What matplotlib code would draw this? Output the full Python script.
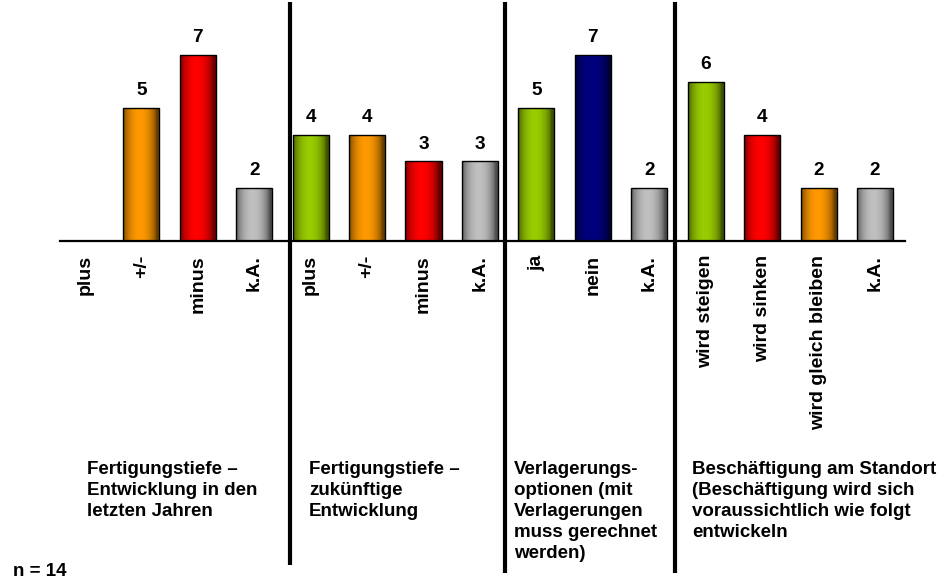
import numpy as np
import matplotlib.pyplot as plt
from matplotlib.colors import to_rgb

plt.rcParams['font.family'] = ['Liberation Sans', 'DejaVu Sans']
plt.rcParams['font.weight'] = 'bold'

# categories of the four question blocks, left to right
labels = ['plus', '+/-', 'minus', 'k.A.',
          'plus', '+/-', 'minus', 'k.A.',
          'ja', 'nein', 'k.A.',
          'wird steigen', 'wird sinken', 'wird gleich bleiben', 'k.A.']
values = [0, 5, 7, 2,
          4, 4, 3, 3,
          5, 7, 2,
          6, 4, 2, 2]
colours = ['#99CC00', '#FF9900', '#FF0000', '#C0C0C0',
           '#99CC00', '#FF9900', '#FF0000', '#C0C0C0',
           '#99CC00', '#000080', '#C0C0C0',
           '#99CC00', '#FF0000', '#FF9900', '#C0C0C0']
group_titles = ['Fertigungstiefe –\nEntwicklung in den\nletzten Jahren',
                'Fertigungstiefe –\nzukünftige\nEntwicklung',
                'Verlagerungs-\noptionen (mit\nVerlagerungen\nmuss gerechnet\nwerden)',
                'Beschäftigung am Standort\n(Beschäftigung wird sich\nvoraussichtlich wie folgt\nentwickeln']
n_total = 14

W, H = 941, 582
fig = plt.figure(figsize=(W / 100, H / 100), dpi=100)
ax = fig.add_axes([60 / W, 1 - 241 / H, 845 / W, 239 / H])

x = np.arange(len(labels))
bw = 0.64
ax.set_xlim(-0.44, 14.53)
ax.set_ylim(0, 9)

# cylinder-like shading across each bar, brightest a little left of centre
t = np.linspace(0, 1, 64)
shade = 0.40 + 0.60 * np.sin(np.pi * np.clip(t * 1.1, 0, 1)) ** 0.6

bars = ax.bar(x, values, width=bw, facecolor='none', edgecolor='black',
              linewidth=1.0, zorder=3)
for b, v, c in zip(bars, values, colours):
    if v == 0:
        b.set_visible(False)
        continue
    rgb = np.array(to_rgb(c))
    img = (shade[:, None] * rgb[None, :])[None, :, :]
    im = ax.imshow(img, extent=(b.get_x(), b.get_x() + bw, 0, v),
                   aspect='auto', interpolation='bilinear', zorder=2)
    im.set_clip_path(b)
    ax.text(b.get_x() + bw / 2, v + 0.33, str(v), ha='center', va='bottom',
            fontsize=13.7, fontweight='bold')

ax.set_xlim(-0.44, 14.53)
ax.set_ylim(0, 9)

for s in ['top', 'right', 'left']:
    ax.spines[s].set_visible(False)
ax.spines['bottom'].set_linewidth(1.6)
ax.set_yticks([])
ax.set_xticks(x)
ax.set_xticklabels(labels, rotation=90, fontsize=14, fontweight='bold')
ax.tick_params(axis='x', length=0, pad=10)

# vertical separators between the blocks
for sx, bottom in [(3.63, -12.2), (7.44, -12.5), (10.46, -12.5)]:
    ax.plot([sx, sx], [bottom, 9], color='black', linewidth=3, clip_on=False,
            solid_capstyle='butt', zorder=4)

# block titles underneath
for px, title in zip([87, 309, 514, 692], group_titles):
    fig.text(px / W, 1 - 461 / H, title, ha='left', va='top', fontsize=13.5,
             fontweight='bold', linespacing=1.3)

fig.text(13 / W, 1 - 572 / H, f'n = {n_total}', ha='left', va='center',
         fontsize=13.5, fontweight='bold')

fig.savefig('out.png', dpi=100)
